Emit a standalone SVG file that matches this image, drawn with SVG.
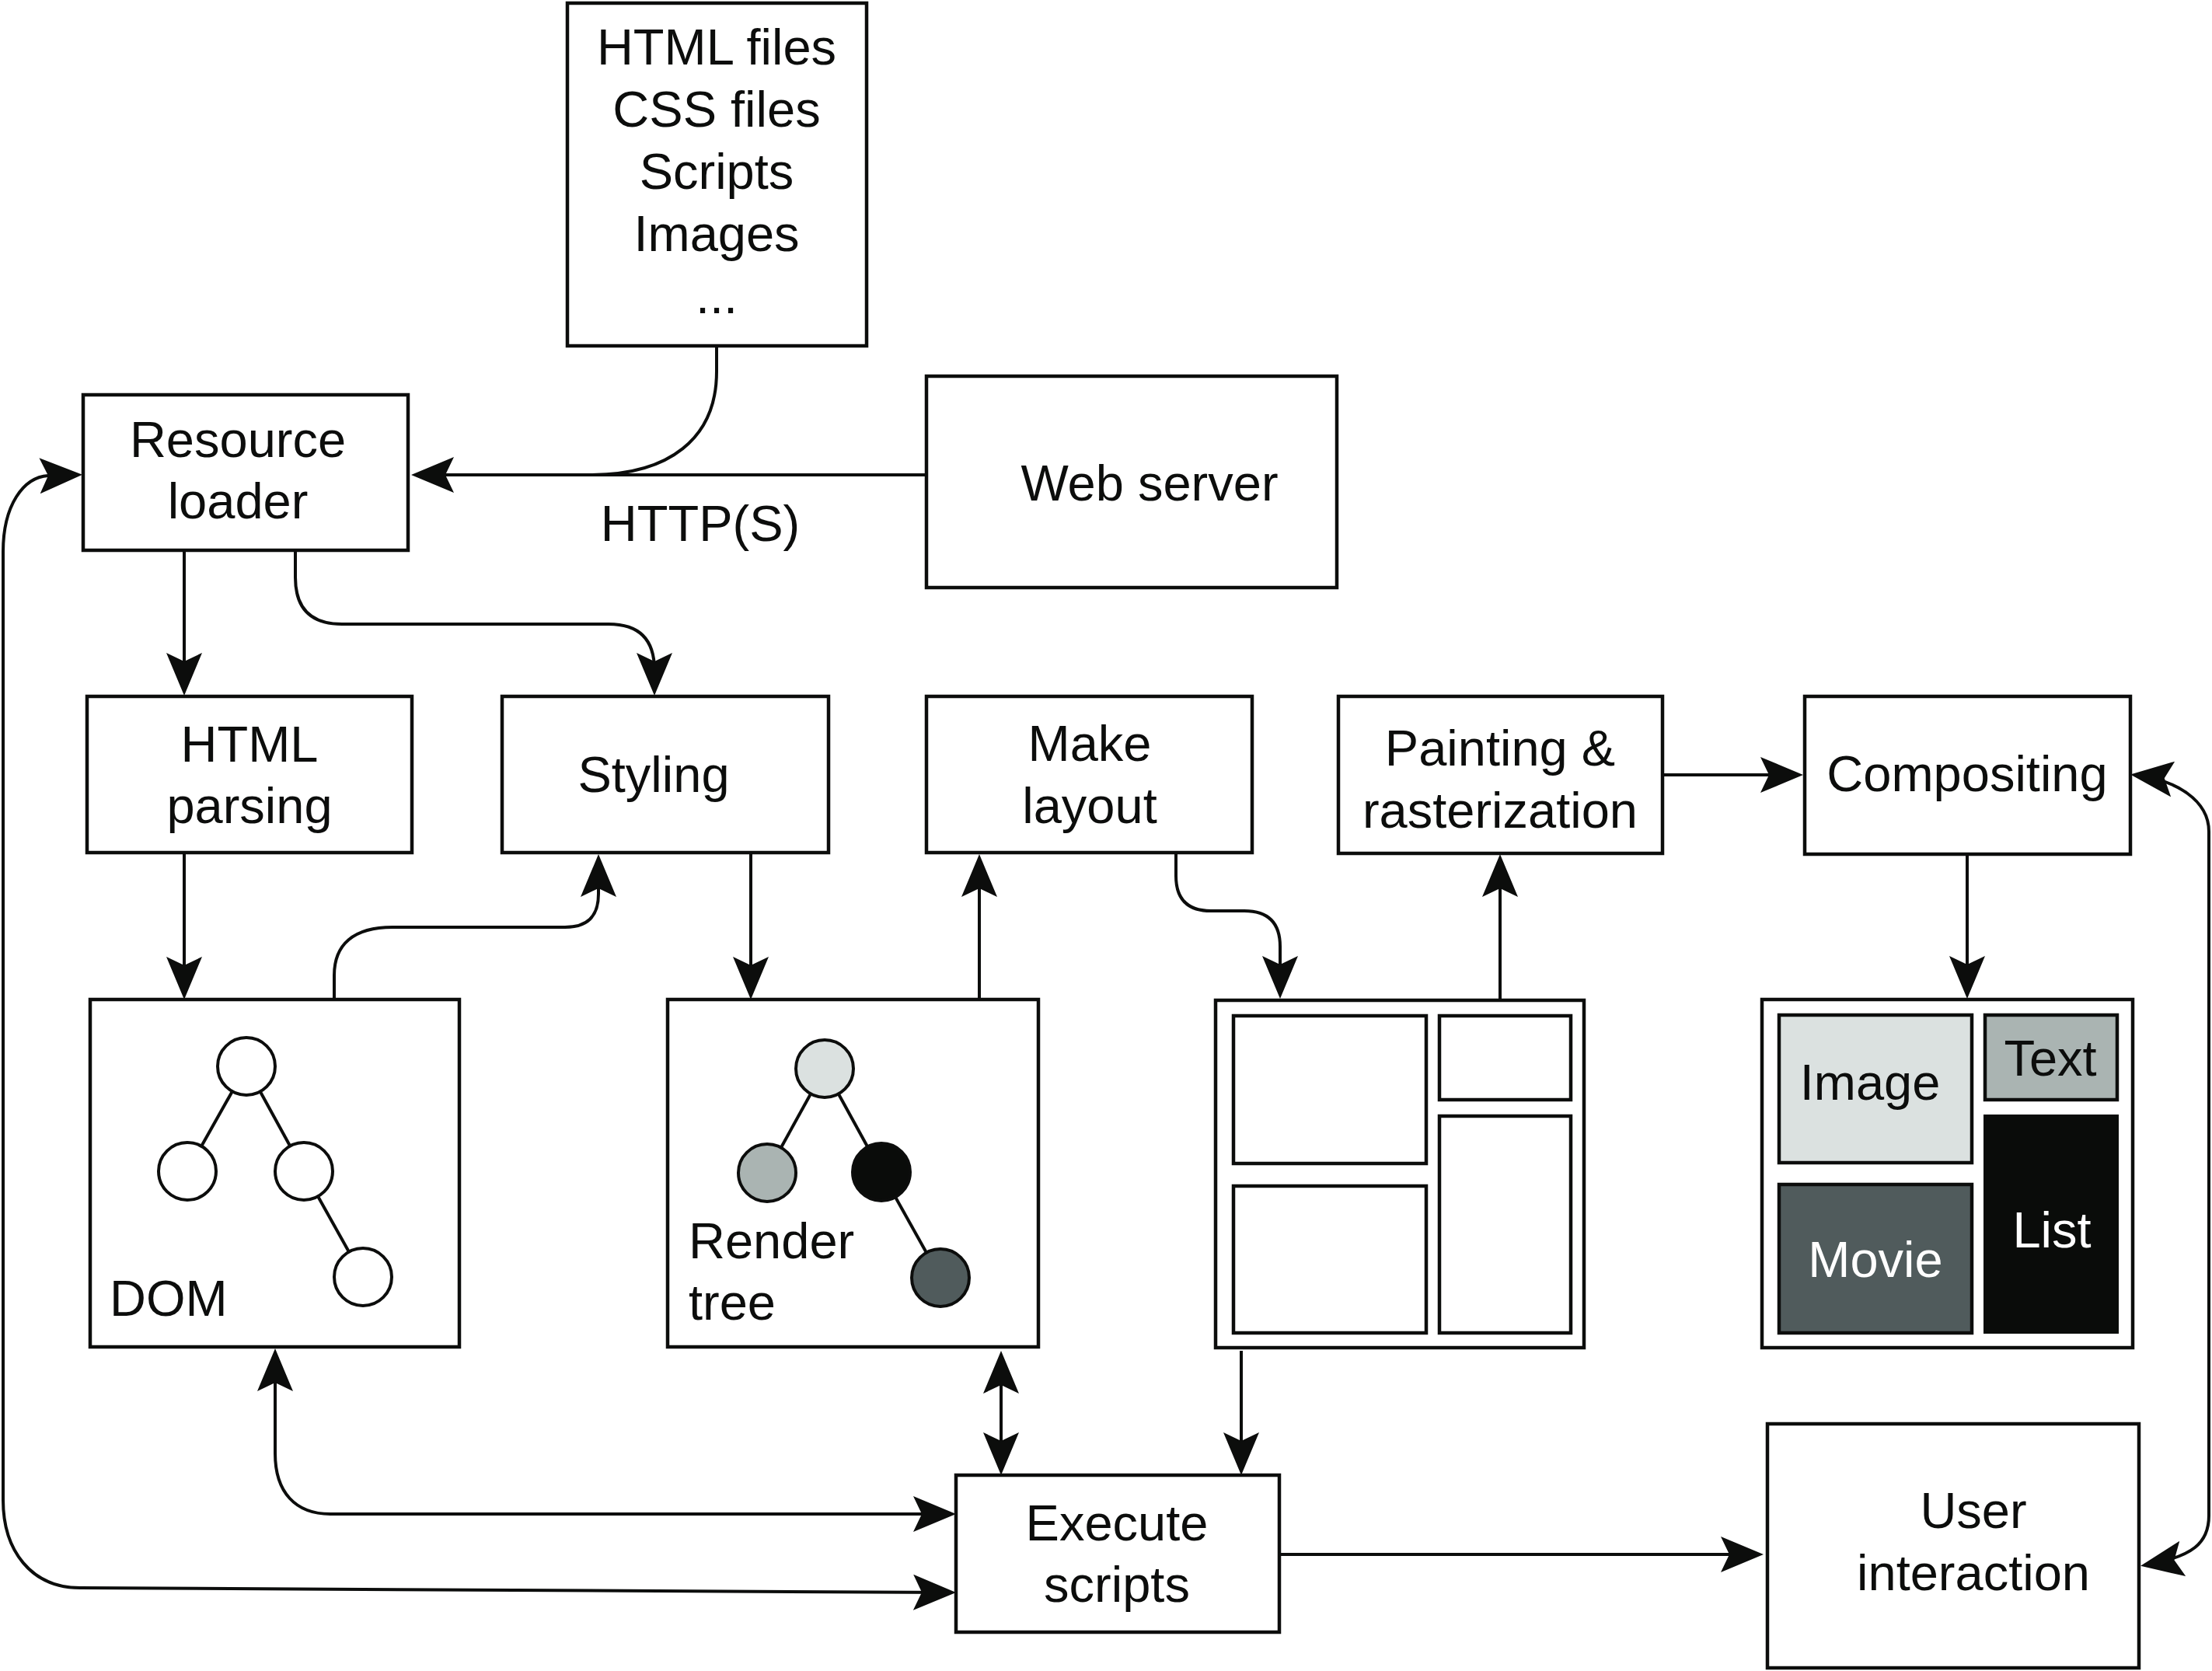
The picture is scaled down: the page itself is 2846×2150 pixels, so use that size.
<svg xmlns="http://www.w3.org/2000/svg" width="2846" height="2150" viewBox="0 0 2846 2150">
<style>
.box{fill:#fff;stroke:#0c0d0c;stroke-width:4.5}
.in{stroke:#0c0d0c;stroke-width:4.5}
.t{font-family:"Liberation Sans",Arial,sans-serif;font-size:65px;fill:#0c0d0c;text-anchor:middle}
.l{text-anchor:start}
.w{fill:#fff}
.c{fill:none;stroke:#0c0d0c;stroke-width:4}
.a{marker-end:url(#ah)}
.b{marker-start:url(#ah);marker-end:url(#ah)}
.n{stroke:#0c0d0c;stroke-width:4}
</style>
<defs>
<marker id="ah" viewBox="0 0 56 46" refX="50" refY="23" markerWidth="56" markerHeight="46" markerUnits="userSpaceOnUse" orient="auto-start-reverse">
<path d="M55,23 L0,0 L11,23 L0,46 Z" fill="#0c0d0c"/>
</marker>
</defs>
<rect width="2846" height="2150" fill="#fff"/>
<g id="connectors">
<path class="c" d="M922 446 V478 C922 565 860 611 760 611"/>
<path class="c a" d="M1192 611 H534"/>
<path class="c a" d="M237 709 V890"/>
<path class="c a" d="M380 709 V743 Q380 803 440 803 H783 Q842 803 842 862 V890"/>
<path class="c a" d="M237 1098 V1281"/>
<path class="c a" d="M430 1286 V1255 C430 1215 455 1193 505 1193 H727 C755 1193 770 1180 770 1150 V1104"/>
<path class="c a" d="M966 1098 V1281"/>
<path class="c a" d="M1260 1286 V1104"/>
<path class="c a" d="M1513 1098 V1127 Q1513 1172 1558 1172 H1601 Q1647 1172 1647 1218 V1280"/>
<path class="c a" d="M1930 1286 V1104"/>
<path class="c a" d="M2139 997 H2315"/>
<path class="c a" d="M2531 1099 V1280"/>
<path class="c b" d="M2746 997 C2800 1003 2842 1030 2842 1070 V1950 C2842 1985 2822 2003 2759 2014"/>
<path class="c a" d="M1646 2000 H2264"/>
<path class="c b" d="M354 1740 V1870 C354 1920 380 1948 425 1948 H1225"/>
<path class="c b" d="M1288 1743 V1893"/>
<path class="c a" d="M1597 1738 V1893"/>
<path class="c b" d="M101 611 L62 612 C30 614 4 650 4 710 V1930 C4 1995 40 2043 103 2043 L1225 2049"/>
</g>
<g id="files">
<rect class="box" x="730" y="4" width="385" height="441"/>
<text class="t" x="922" y="83">HTML files</text>
<text class="t" x="922" y="163">CSS files</text>
<text class="t" x="922" y="243">Scripts</text>
<text class="t" x="922" y="323">Images</text>
<text class="t" x="922" y="403">...</text>
</g>
<g id="http-label"><text class="t" x="901" y="696">HTTP(S)</text></g>
<g id="resource-loader">
<rect class="box" x="107" y="508" width="418" height="200"/>
<text class="t" x="306" y="588">Resource</text>
<text class="t" x="306" y="667">loader</text>
</g>
<g id="web-server">
<rect class="box" x="1192" y="484" width="528" height="272"/>
<text class="t" x="1479" y="644">Web server</text>
</g>
<g id="html-parsing">
<rect class="box" x="112" y="896" width="418" height="201"/>
<text class="t" x="321" y="980">HTML</text>
<text class="t" x="321" y="1059">parsing</text>
</g>
<g id="styling">
<rect class="box" x="646" y="896" width="420" height="201"/>
<text class="t" x="841" y="1019">Styling</text>
</g>
<g id="make-layout">
<rect class="box" x="1192" y="896" width="419" height="201"/>
<text class="t" x="1402" y="979">Make</text>
<text class="t" x="1402" y="1059">layout</text>
</g>
<g id="painting">
<rect class="box" x="1722" y="896" width="417" height="202"/>
<text class="t" x="1930" y="985">Painting &amp;</text>
<text class="t" x="1930" y="1065">rasterization</text>
</g>
<g id="compositing">
<rect class="box" x="2322" y="896" width="419" height="203"/>
<text class="t" x="2531" y="1018">Compositing</text>
</g>
<g id="dom">
<rect class="box" x="116" y="1286" width="475" height="447"/>
<line class="n" x1="317" y1="1372" x2="241" y2="1507"/>
<line class="n" x1="317" y1="1372" x2="391" y2="1507"/>
<line class="n" x1="391" y1="1507" x2="467" y2="1643"/>
<circle class="n" cx="317" cy="1372" r="37" fill="#fff"/>
<circle class="n" cx="241" cy="1507" r="37" fill="#fff"/>
<circle class="n" cx="391" cy="1507" r="37" fill="#fff"/>
<circle class="n" cx="467" cy="1643" r="37" fill="#fff"/>
<text class="t l" x="141" y="1693">DOM</text>
</g>
<g id="render-tree">
<rect class="box" x="859" y="1286" width="477" height="447"/>
<line class="n" x1="1061" y1="1375" x2="987" y2="1509"/>
<line class="n" x1="1061" y1="1375" x2="1134" y2="1508"/>
<line class="n" x1="1134" y1="1508" x2="1210" y2="1644"/>
<circle class="n" cx="1061" cy="1375" r="37" fill="#dbe1e0"/>
<circle class="n" cx="987" cy="1509" r="37" fill="#aab4b2"/>
<circle class="n" cx="1134" cy="1508" r="37" fill="#0a0c0a"/>
<circle class="n" cx="1210" cy="1644" r="37" fill="#505b5c"/>
<text class="t l" x="886" y="1619">Render</text>
<text class="t l" x="886" y="1698">tree</text>
</g>
<g id="layout">
<rect class="box" x="1564" y="1287" width="474" height="447"/>
<rect class="in" x="1587" y="1307" width="248" height="190" fill="#fff"/>
<rect class="in" x="1852" y="1307" width="169" height="108" fill="#fff"/>
<rect class="in" x="1587" y="1526" width="248" height="189" fill="#fff"/>
<rect class="in" x="1852" y="1436" width="169" height="279" fill="#fff"/>
</g>
<g id="layers">
<rect class="box" x="2267" y="1286" width="477" height="448"/>
<rect class="in" x="2289" y="1306" width="248" height="190" fill="#dbe1e0"/>
<rect class="in" x="2554" y="1306" width="170" height="109" fill="#aab4b2"/>
<rect x="2552" y="1434" width="174" height="282" fill="#0a0c0a"/>
<rect class="in" x="2289" y="1524" width="248" height="191" fill="#505b5c"/>
<text class="t" x="2406" y="1415">Image</text>
<text class="t" x="2638" y="1384">Text</text>
<text class="t w" x="2413" y="1643">Movie</text>
<text class="t w" x="2640" y="1605">List</text>
</g>
<g id="execute-scripts">
<rect class="box" x="1230" y="1898" width="416" height="202"/>
<text class="t" x="1437" y="1982">Execute</text>
<text class="t" x="1437" y="2061">scripts</text>
</g>
<g id="user-interaction">
<rect class="box" x="2274" y="1832" width="478" height="314"/>
<text class="t" x="2539" y="1966">User</text>
<text class="t" x="2539" y="2046">interaction</text>
</g>
</svg>
